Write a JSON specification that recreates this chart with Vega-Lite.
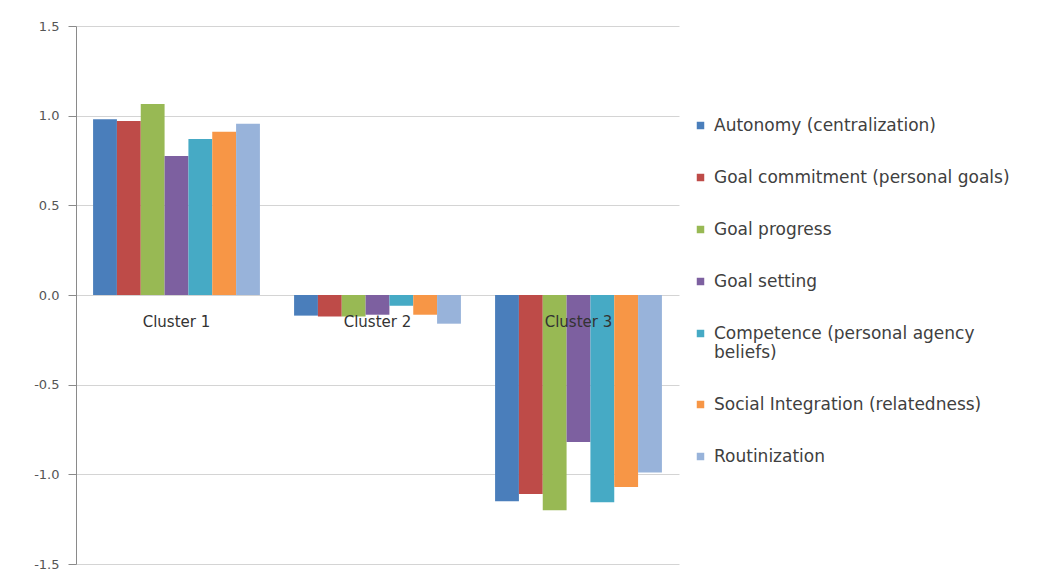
{
  "$schema": "https://vega.github.io/schema/vega-lite/v6.json",
  "width": 603,
  "height": 538,
  "autosize": {"type": "none"},
  "padding": {"left": 76, "top": 26, "right": 363, "bottom": 16},
  "background": "white",
  "config": {
    "view": {"stroke": null},
    "font": "DejaVu Sans"
  },
  "datasets": {
    "bars": [
      {"cluster": "Cluster 1", "series": "Autonomy (centralization)", "value": 0.98},
      {"cluster": "Cluster 1", "series": "Goal commitment (personal goals)", "value": 0.97},
      {"cluster": "Cluster 1", "series": "Goal progress", "value": 1.065},
      {"cluster": "Cluster 1", "series": "Goal setting", "value": 0.775},
      {"cluster": "Cluster 1", "series": "Competence (personal agency beliefs)", "value": 0.87},
      {"cluster": "Cluster 1", "series": "Social Integration (relatedness)", "value": 0.91},
      {"cluster": "Cluster 1", "series": "Routinization", "value": 0.955},
      {"cluster": "Cluster 2", "series": "Autonomy (centralization)", "value": -0.115},
      {"cluster": "Cluster 2", "series": "Goal commitment (personal goals)", "value": -0.12},
      {"cluster": "Cluster 2", "series": "Goal progress", "value": -0.12},
      {"cluster": "Cluster 2", "series": "Goal setting", "value": -0.11},
      {"cluster": "Cluster 2", "series": "Competence (personal agency beliefs)", "value": -0.06},
      {"cluster": "Cluster 2", "series": "Social Integration (relatedness)", "value": -0.11},
      {"cluster": "Cluster 2", "series": "Routinization", "value": -0.16},
      {"cluster": "Cluster 3", "series": "Autonomy (centralization)", "value": -1.15},
      {"cluster": "Cluster 3", "series": "Goal commitment (personal goals)", "value": -1.11},
      {"cluster": "Cluster 3", "series": "Goal progress", "value": -1.2},
      {"cluster": "Cluster 3", "series": "Goal setting", "value": -0.82},
      {"cluster": "Cluster 3", "series": "Competence (personal agency beliefs)", "value": -1.155},
      {"cluster": "Cluster 3", "series": "Social Integration (relatedness)", "value": -1.07},
      {"cluster": "Cluster 3", "series": "Routinization", "value": -0.99}
    ],
    "labels": [
      {"cluster": "Cluster 1"},
      {"cluster": "Cluster 2"},
      {"cluster": "Cluster 3"}
    ]
  },
  "layer": [
    {
      "data": {"name": "bars"},
      "mark": {"type": "bar"},
      "encoding": {
        "x": {
          "field": "cluster", "type": "nominal", "axis": null,
          "scale": {"paddingInner": 0.17, "paddingOuter": 0.085}
        },
        "xOffset": {
          "field": "series", "type": "nominal",
          "sort": ["Autonomy (centralization)", "Goal commitment (personal goals)", "Goal progress", "Goal setting", "Competence (personal agency beliefs)", "Social Integration (relatedness)", "Routinization"],
          "scale": {"paddingInner": 0, "paddingOuter": 0}
        },
        "y": {
          "field": "value", "type": "quantitative", "title": null,
          "scale": {"domain": [-1.5, 1.5], "nice": false, "zero": false},
          "axis": {
            "values": [-1.5, -1.0, -0.5, 0, 0.5, 1.0, 1.5],
            "labelExpr": "replace(format(datum.value, '.1f'), '\u2212', '-')",
            "grid": true, "gridColor": "#d4d4d4", "gridWidth": 1,
            "domain": true, "domainColor": "#8a8a8a",
            "ticks": true, "tickColor": "#8a8a8a", "tickSize": 8,
            "labelPadding": 9, "labelFontSize": 13, "labelColor": "#555555",
            "labelFont": "DejaVu Sans"
          }
        },
        "color": {
          "field": "series", "type": "nominal",
          "scale": {
            "domain": ["Autonomy (centralization)", "Goal commitment (personal goals)", "Goal progress", "Goal setting", "Competence (personal agency beliefs)", "Social Integration (relatedness)", "Routinization"],
            "range": ["#4a7ebb", "#be4b48", "#98b954", "#7d60a0", "#46aac5", "#f79646", "#98b3da"]
          },
          "legend": {
            "title": null,
            "orient": "none",
            "legendX": 616,
            "legendY": 91,
            "symbolType": "square",
            "symbolSize": 56,
            "symbolStrokeWidth": 0,
            "labelFont": "DejaVu Sans",
            "labelFontSize": 17,
            "labelColor": "#404040",
            "labelLimit": 400,
            "labelOffset": 5,
            "rowPadding": 34,
            "labelExpr": "datum.label == 'Competence (personal agency beliefs)' ? ['Competence (personal agency', 'beliefs)'] : datum.label"
          }
        }
      }
    },
    {
      "mark": {"type": "rule", "color": "#8a8a8a", "strokeWidth": 1},
      "encoding": {"y": {"datum": 0}}
    },
    {
      "data": {"name": "labels"},
      "mark": {"type": "text", "baseline": "middle", "dy": 27, "fontSize": 15, "color": "#333333", "font": "DejaVu Sans"},
      "encoding": {
        "x": {"field": "cluster", "type": "nominal"},
        "y": {"datum": 0},
        "text": {"field": "cluster"}
      }
    }
  ]
}
